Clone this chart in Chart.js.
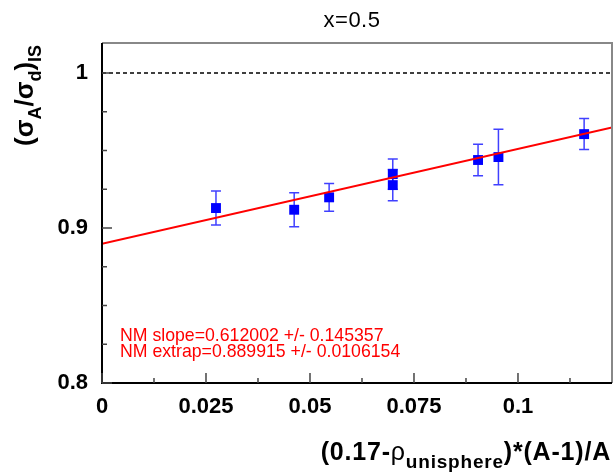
<!DOCTYPE html>
<html>
<head>
<meta charset="utf-8">
<script src="https://cdn.jsdelivr.net/npm/chart.js@4/dist/chart.umd.min.js"></script>
<style>
  html, body { margin: 0; padding: 0; background: #fff; }
  #wrap { width: 614px; height: 475px; }
</style>
</head>
<body>
<div id="wrap"><canvas id="chart" width="614" height="475"></canvas></div>
<script>
const xVals = [0.0274, 0.0462, 0.0546, 0.0699, 0.0699, 0.0904, 0.0953, 0.1159];
const yVals = [0.9129, 0.9118, 0.9198, 0.9348, 0.9277, 0.9439, 0.9458, 0.9606];
const yErrs = [0.011, 0.011, 0.009, 0.0097, 0.0101, 0.0102, 0.0179, 0.0100];

// fit result printed on the plot
const fitSlope = 0.612002;
const fitIntercept = 0.889915;
const fitLines = [
  "NM slope=0.612002 +/- 0.145357",
  "NM extrap=0.889915 +/- 0.0106154",
];

const xMin = 0, xMax = 0.1226;
const yMin = 0.8, yMax = 1.0194;
const refLevel = 1;

const BLUE = "#0000ff";
const RED = "#ff0000";
const FAM = "'Liberation Sans', Arial, Helvetica, sans-serif";

const fmt = (v) => String(+(+v).toFixed(4));

// draws text pieces one after another, with sub-scripts
function drawPieces(ctx, pieces, x, y) {
  let cx = x;
  pieces.forEach((p) => {
    ctx.font = p.font;
    ctx.fillText(p.text, cx, y + (p.dy || 0));
    cx += ctx.measureText(p.text).width;
  });
  return cx - x;
}
function piecesWidth(ctx, pieces) {
  let w = 0;
  pieces.forEach((p) => {
    ctx.font = p.font;
    w += ctx.measureText(p.text).width;
  });
  return w;
}

const framePlugin = {
  id: "frame",
  beforeDatasetsDraw(chart) {
    const { ctx } = chart;
    const xs = chart.scales.x;
    const ys = chart.scales.y;
    // error bars under the markers
    ctx.save();
    ctx.strokeStyle = "rgba(0,0,255,0.75)";
    ctx.lineWidth = 1.5;
    xVals.forEach((xv, i) => {
      const px = xs.getPixelForValue(xv);
      const top = ys.getPixelForValue(yVals[i] + yErrs[i]);
      const bot = ys.getPixelForValue(yVals[i] - yErrs[i]);
      ctx.beginPath();
      ctx.moveTo(px, top);
      ctx.lineTo(px, bot);
      ctx.moveTo(px - 5, top);
      ctx.lineTo(px + 5, top);
      ctx.moveTo(px - 5, bot);
      ctx.lineTo(px + 5, bot);
      ctx.stroke();
    });
    ctx.restore();
  },
  afterDraw(chart) {
    const { ctx, chartArea: a } = chart;
    const xs = chart.scales.x;
    const ys = chart.scales.y;
    ctx.save();

    // frame: grey top/right, black axes left/bottom
    ctx.strokeStyle = "#888";
    ctx.lineWidth = 2;
    ctx.beginPath();
    ctx.moveTo(a.left, a.top);
    ctx.lineTo(a.right, a.top);
    ctx.lineTo(a.right, a.bottom);
    ctx.stroke();
    ctx.strokeStyle = "#000";
    ctx.beginPath();
    ctx.moveTo(a.left, a.top);
    ctx.lineTo(a.left, a.bottom);
    ctx.lineTo(a.right, a.bottom);
    ctx.stroke();

    // inward ticks
    ctx.strokeStyle = "#444";
    ctx.lineWidth = 1.5;
    ctx.beginPath();
    for (let k = 0; k * 0.025 + yMin <= yMax + 1e-9; k++) {
      const py = ys.getPixelForValue(yMin + k * 0.025);
      const len = k % 4 === 0 ? 10 : 5;
      ctx.moveTo(a.left, py);
      ctx.lineTo(a.left + len, py);
    }
    for (let k = 0; k * 0.0125 <= xMax + 1e-9; k++) {
      const px = xs.getPixelForValue(k * 0.0125);
      const len = k % 2 === 0 ? 10 : 5;
      ctx.moveTo(px, a.bottom);
      ctx.lineTo(px, a.bottom - len);
    }
    ctx.stroke();

    // title
    ctx.fillStyle = "#000";
    ctx.font = "22px " + FAM;
    ctx.letterSpacing = "0.5px";
    ctx.textAlign = "center";
    ctx.textBaseline = "alphabetic";
    ctx.fillText("x=0.5", 352, 27);

    // fit text
    ctx.textAlign = "left";
    ctx.fillStyle = RED;
    ctx.font = "17.7px " + FAM;
    ctx.letterSpacing = "0px";
    ctx.fillText(fitLines[0], 120, 341);
    ctx.fillText(fitLines[1], 120, 357);

    // y axis title (rotated)
    ctx.fillStyle = "#000";
    const big = "bold 26px " + FAM;
    const sub = "bold 18px " + FAM;
    const yTitle = [
      { text: "(σ", font: big },
      { text: "A", font: sub, dy: 8 },
      { text: "/σ", font: big },
      { text: "d", font: sub, dy: 8 },
      { text: ")", font: big },
      { text: "IS", font: sub, dy: 8 },
    ];
    ctx.save();
    ctx.translate(33, 146);
    ctx.rotate(-Math.PI / 2);
    drawPieces(ctx, yTitle, 0, 0);
    ctx.restore();

    // x axis title, right aligned
    ctx.letterSpacing = "0.8px";
    const xbig = "bold 25px " + FAM;
    const xsym = "25px " + FAM;
    const xsub = "bold 19px " + FAM;
    const xTitle = [
      { text: "(0.17-", font: xbig },
      { text: "ρ", font: xsym },
      { text: "unisphere", font: xsub, dy: 8 },
      { text: ")*(A-1)/A", font: xbig },
    ];
    const w = piecesWidth(ctx, xTitle);
    drawPieces(ctx, xTitle, 611 - w, 460);

    ctx.restore();
  },
};

const pointData = xVals.map((x, i) => ({ x: x, y: yVals[i] }));
const fitData = [
  { x: xMin, y: fitIntercept + fitSlope * xMin },
  { x: xMax, y: fitIntercept + fitSlope * xMax },
];
const refData = [
  { x: xMin, y: refLevel },
  { x: xMax, y: refLevel },
];

new Chart(document.getElementById("chart"), {
  type: "scatter",
  data: {
    datasets: [
      {
        label: "data",
        data: pointData,
        pointStyle: "rect",
        pointRadius: 7,
        pointHoverRadius: 7,
        backgroundColor: BLUE,
        borderWidth: 0,
        order: 2,
      },
      {
        label: "fit",
        type: "line",
        data: fitData,
        borderColor: RED,
        borderWidth: 2,
        pointRadius: 0,
        fill: false,
        order: 0,
      },
      {
        label: "ref",
        type: "line",
        data: refData,
        borderColor: "#000",
        borderWidth: 1.5,
        borderDash: [4, 3],
        pointRadius: 0,
        fill: false,
        order: 1,
      },
    ],
  },
  options: {
    responsive: false,
    animation: false,
    events: [],
    layout: {
      autoPadding: false,
      padding: { top: 43, right: 2, left: 0, bottom: 0 },
    },
    plugins: { legend: { display: false }, tooltip: { enabled: false } },
    scales: {
      x: {
        type: "linear",
        min: xMin,
        max: xMax,
        afterFit: (s) => {
          s.height = 92;
          s.paddingLeft = 0;
          s.paddingRight = 0;
        },
        grid: { display: false, drawTicks: false },
        border: { display: false },
        ticks: {
          stepSize: 0.025,
          includeBounds: false,
          autoSkip: false,
          maxRotation: 0,
          padding: 11,
          color: "#000",
          font: { family: FAM, size: 22, weight: "bold" },
          callback: fmt,
        },
      },
      y: {
        type: "linear",
        min: yMin,
        max: yMax,
        afterFit: (s) => {
          s.width = 102;
          s.paddingTop = 0;
          s.paddingBottom = 0;
        },
        grid: { display: false, drawTicks: false },
        border: { display: false },
        ticks: {
          stepSize: 0.1,
          includeBounds: false,
          padding: 14,
          color: "#000",
          font: { family: FAM, size: 22, weight: "bold" },
          callback: fmt,
        },
      },
    },
  },
  plugins: [framePlugin],
});
</script>
</body>
</html>
